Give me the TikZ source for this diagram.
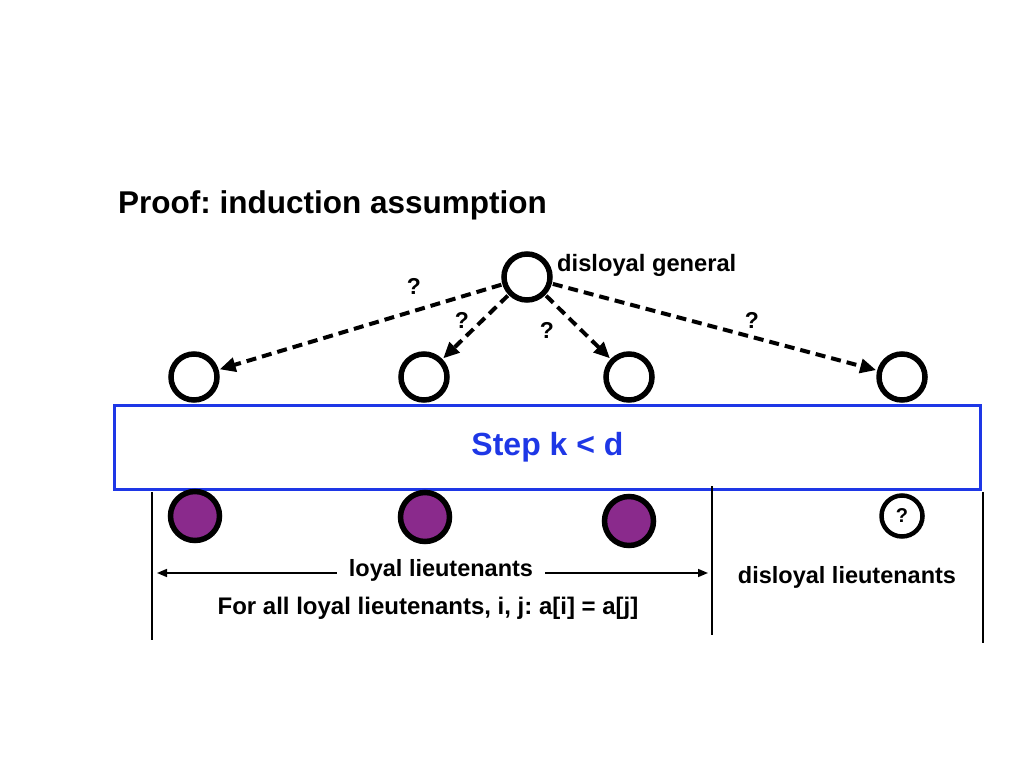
\documentclass[tikz,border=0pt]{standalone}
\usepackage{fontspec}
\setmainfont{Liberation Sans}
\usetikzlibrary{arrows.meta}
\definecolor{stepblue}{RGB}{30,55,230}
\definecolor{loyalpurple}{RGB}{138,42,140}
\tikzset{
  gen/.style={circle,draw=black,line width=5.5pt,minimum size=46pt,inner sep=0pt,fill=white},
  loyal/.style={circle,draw=black,line width=5.5pt,minimum size=49pt,inner sep=0pt,fill=loyalpurple},
  qcircle/.style={circle,draw=black,line width=4.5pt,minimum size=41pt,inner sep=0pt,font=\bfseries\fontsize{20}{22}\selectfont},
  msg/.style={line width=4pt,dash pattern=on 10pt off 6pt,-{Triangle[length=16pt,width=14pt]},shorten >=1pt,shorten <=1pt},
  qlabel/.style={font=\bfseries\fontsize{23}{25}\selectfont,inner sep=0pt},
  lbl/.style={font=\bfseries\fontsize{23.5}{26}\selectfont,inner sep=0pt},
  stepbox/.style={draw=stepblue,line width=3pt,minimum width=866pt,minimum height=84pt,inner sep=0pt,text=stepblue,font=\bfseries\fontsize{32}{36}\selectfont},
  divider/.style={line width=1.5pt},
  span/.style={line width=1.6pt,{Triangle[length=10pt,width=8pt]}-{Triangle[length=10pt,width=8pt]}}
}
\begin{document}
\frenchspacing
\begin{tikzpicture}[x=1pt,y=-1pt]
\useasboundingbox (0,0) rectangle (1024,768);
\node[anchor=base west,inner sep=0pt,font=\bfseries\fontsize{31.5}{36}\selectfont] (title) at (118,213) {Proof: induction assumption};

\node[stepbox] (step) at (547.5,447.5) {Step k < d};

\node[gen] (g) at (527,277) {};
\node[lbl,anchor=west,font=\bfseries\fontsize{23.7}{26}\selectfont] (glabel) at (557,265) {disloyal general};

\node[gen] (t1) at (194,377) {};
\node[gen] (t2) at (424,377) {};
\node[gen] (t3) at (629,377) {};
\node[gen] (t4) at (902,377) {};

\draw[msg] (g) -- (t1);
\draw[msg] (g) -- (t2);
\draw[msg] (g) -- (t3);
\draw[msg] (g) -- (t4);

\node[qlabel] (q1) at (414,286) {?};
\node[qlabel] (q2) at (462,320) {?};
\node[qlabel] (q3) at (547,330) {?};
\node[qlabel] (q4) at (752,320) {?};

\node[loyal] (b1) at (195,516) {};
\node[loyal] (b2) at (425,517) {};
\node[loyal] (b3) at (629,521) {};
\node[qcircle] (b4) at (902,516) {?};

\coordinate (v1a) at (152,492);
\coordinate (v1b) at (152,640);
\coordinate (v2a) at (712,486);
\coordinate (v2b) at (712,635);
\coordinate (v3a) at (983,492);
\coordinate (v3b) at (983,643);
\draw[divider] (v1a) -- (v1b);
\draw[divider] (v2a) -- (v2b);
\draw[divider] (v3a) -- (v3b);

\coordinate (sl) at (157,573);
\coordinate (sr) at (708,573);
\draw[span] (sl) -- (sr);
\node[lbl,fill=white,inner xsep=12pt,inner ysep=4pt] (loyaltext) at (441,570) {loyal lieutenants};

\node[lbl] (distext) at (847,577) {disloyal lieutenants};
\node[lbl,font=\bfseries\fontsize{24}{26}\selectfont] (forall) at (428,608) {For all loyal lieutenants, i, j: a[i] = a[j]};
\end{tikzpicture}
\end{document}
